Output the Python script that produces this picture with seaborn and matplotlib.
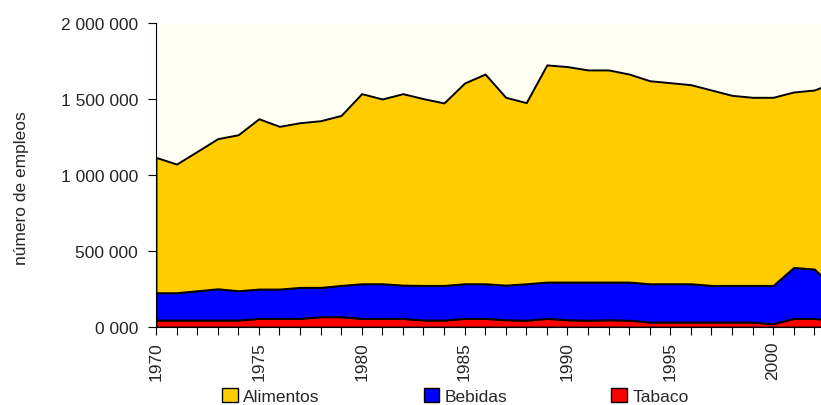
import numpy as np
import pandas as pd
import matplotlib
matplotlib.use("Agg")
import matplotlib.pyplot as plt
import seaborn as sns
from matplotlib.ticker import FuncFormatter, MultipleLocator
from matplotlib.patches import Patch

# Data (employees)
years = list(range(1970, 2004))
alimentos = [890000, 846000, 916000, 987000, 1026000, 1120000, 1070000, 1083000, 1096000, 1118000,
             1250000, 1215000, 1259000, 1228000, 1200000, 1320000, 1379000, 1235000, 1191000, 1428000,
             1417000, 1395000, 1395000, 1368000, 1335000, 1322000, 1309000, 1285000, 1250000, 1237000,
             1237000, 1154000, 1177000, 1355000]
bebidas = [180000, 180000, 193000, 206000, 193000, 193000, 193000, 204000, 193000, 206000,
           228000, 228000, 219000, 228000, 228000, 228000, 228000, 228000, 240000, 239000,
           248000, 251000, 248000, 251000, 252000, 252000, 252000, 241000, 241000, 241000,
           252000, 335000, 325000, 210000]
tabaco = [46000, 46000, 46000, 46000, 46000, 57000, 57000, 57000, 68000, 68000,
          57000, 57000, 57000, 46000, 46000, 57000, 57000, 48000, 45000, 57000,
          48000, 45000, 48000, 45000, 33000, 33000, 33000, 33000, 33000, 33000,
          22000, 57000, 57000, 45000]
series_names = ["Alimentos", "Bebidas", "Tabaco"]
series_colors = ["#FFCC00", "#0000FF", "#FF0000"]
y_label = "número de empleos"

df = pd.DataFrame({"year": years, "Tabaco": tabaco, "Bebidas": bebidas, "Alimentos": alimentos})

sns.set_theme(style="white")
plt.rcParams["font.family"] = ["Liberation Sans Narrow", "Liberation Sans", "DejaVu Sans"]
fs = 12.5

fig = plt.figure(figsize=(8.21, 4.06), dpi=100)
ax = fig.add_axes([0.190, 0.192, 0.810, 0.749])
ax.set_facecolor("#FFFFF4")

# stacked areas, bottom to top: Tabaco, Bebidas, Alimentos
ax.stackplot(df["year"], df["Tabaco"], df["Bebidas"], df["Alimentos"],
             colors=["#FF0000", "#0000FF", "#FFCC00"],
             edgecolor="black", linewidth=1.4)

ax.set_xlim(1970, 2002.33)
ax.set_ylim(0, 2000000)
ax.yaxis.set_major_locator(MultipleLocator(500000))
ax.yaxis.set_major_formatter(FuncFormatter(
    lambda v, p: f"{int(v // 1000):,}".replace(",", " ") + " 000"))
ax.xaxis.set_major_locator(MultipleLocator(5))
ax.xaxis.set_minor_locator(MultipleLocator(1))

ax.tick_params(axis="y", which="major", direction="out", length=6, width=0.8,
               color="black", labelsize=fs, pad=7, left=True)
ax.tick_params(axis="x", which="both", direction="out", length=6, width=0.8,
               color="black", bottom=True)
ax.tick_params(axis="x", which="major", labelsize=fs, labelrotation=90, pad=4)

for s in ["top", "right"]:
    ax.spines[s].set_visible(False)
for s in ["left", "bottom"]:
    ax.spines[s].set_color("black")
    ax.spines[s].set_linewidth(0.8)

ax.set_ylabel(y_label, fontsize=fs)
ax.yaxis.set_label_coords(-0.191, 0.46)

handles = [Patch(facecolor=c, edgecolor="black", linewidth=1) for c in series_colors]
fig.legend(handles, series_names, loc="center left", bbox_to_anchor=(0.2705, 0.022), ncol=3,
           frameon=False, fontsize=fs, handlelength=0.9, handleheight=0.9,
           handletextpad=0.3, columnspacing=6.0, borderpad=0, borderaxespad=0)

fig.savefig("out.png", dpi=100)
